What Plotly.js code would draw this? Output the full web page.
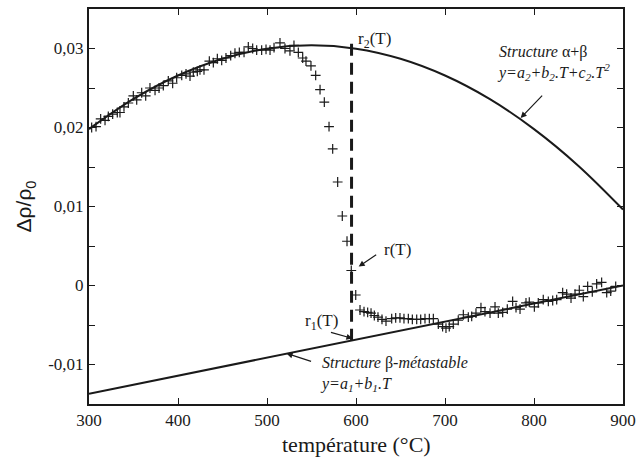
<!DOCTYPE html>
<html>
<head>
<meta charset="utf-8">
<script src="https://cdn.plot.ly/plotly-3.0.1.min.js"></script>
<style>html,body{margin:0;padding:0;background:#fff;}#chart{width:640px;height:461px;}</style>
</head>
<body>
<div id="chart"></div>
<script>
// Measured points (temperature °C, Δρ/ρ0)
const measT = [303,307.9,313.1,318,321.7,326.6,331.8,334.8,339.3,344.2,349.8,353.6,359.2,363.7,368.5,374.2,378.7,383.5,389.1,394,398.5,404.2,409,413.5,417.2,421.7,424.7,429.2,435.2,439.7,444.2,449.1,453.9,459.2,464,468.9,474.2,479,483.9,488.4,494,498.9,503.4,507.9,514.6,520.2,525.8,530.3,535.2,540.1,543.8,549.4,554.7,559.6,564.4,569.7,573.8,579.4,584.6,589.9,594.7,599.7,604.5,609,613.1,616.9,620.6,624.7,629.2,633.7,640.1,644.6,649.4,653.9,658.8,663.3,668.2,672.7,677.5,682.4,686.9,692.5,697.3,701.1,704.8,709.3,714.9,720.6,726.2,730,734.8,740.4,744.9,750.6,756.2,759.9,764.8,770,776,779.8,784.3,791,794.7,800.4,804.8,810.4,816.1,821,825.5,832.2,836.7,841.6,846.1,850.9,855.4,860.3,865.5,870.4,876,881.7,886.2,891.8];
const measY = [0.0200,0.0201,0.0211,0.0209,0.0214,0.0217,0.0219,0.0219,0.0226,0.0231,0.0240,0.0235,0.0244,0.0240,0.0250,0.0247,0.0250,0.0253,0.0259,0.0256,0.0263,0.0266,0.0268,0.0265,0.0270,0.0271,0.0273,0.0273,0.0284,0.0282,0.0287,0.0285,0.0288,0.0291,0.0294,0.0295,0.0295,0.0302,0.0300,0.0298,0.0298,0.0299,0.0298,0.0301,0.0307,0.0300,0.0297,0.0304,0.0295,0.0288,0.0284,0.0278,0.0266,0.0248,0.0232,0.0201,0.0173,0.0131,0.0088,0.0056,0.0019,-0.0012,-0.0031,-0.0033,-0.0034,-0.0035,-0.0038,-0.0040,-0.0043,-0.0045,-0.0042,-0.0041,-0.0041,-0.0042,-0.0042,-0.0043,-0.0043,-0.0043,-0.0042,-0.0042,-0.0042,-0.0049,-0.0052,-0.0054,-0.0052,-0.0049,-0.0044,-0.0037,-0.0040,-0.0039,-0.0035,-0.0028,-0.0033,-0.0035,-0.0027,-0.0035,-0.0034,-0.0030,-0.0020,-0.0028,-0.0030,-0.0022,-0.0021,-0.0027,-0.0022,-0.0018,-0.0020,-0.0019,-0.0018,-0.0009,-0.0011,-0.0016,-0.0011,-0.0006,-0.0014,-0.0001,-0.0008,0.0002,0.0004,-0.0009,-0.0007,-0.0001];

// Fit α+β (quadratic)
const fit2T = [300,350,400,450,500,550,600,650,700,750,800,850,900];
const fit2Y = [0.0198,0.02362,0.02658,0.0287,0.02998,0.0304,0.02998,0.0287,0.02658,0.02362,0.0198,0.01514,0.00962];

// Fit β-métastable (linear)
const fit1T = [300,900];
const fit1Y = [-0.0137,0.0000];

// Vertical marker at transition
const markT = [595,595];
const markY = [-0.0070,0.0313];

const yTickVals = [-0.01,0,0.01,0.02,0.03];
const yTickText = ['-0,01','0','0,01','0,02','0,03'];
const xTickVals = [300,400,500,600,700,800,900];

const ink = '#1a1a1a';
const serif = 'Liberation Serif';

const traces = [
  {x: fit2T, y: fit2Y, mode:'lines', line:{color:ink, width:2, shape:'spline'}, hoverinfo:'skip'},
  {x: fit1T, y: fit1Y, mode:'lines', line:{color:ink, width:2}, hoverinfo:'skip'},
  {x: markT, y: markY, mode:'lines', line:{color:ink, width:3, dash:'12px,7px'}, hoverinfo:'skip'},
  {x: measT, y: measY, mode:'markers', marker:{symbol:'cross-thin-open', size:7, color:ink, line:{color:ink, width:1.2}}}
];

function axisBase() {
  return {
    showgrid:false, zeroline:false, showline:true, mirror:'allticks',
    linecolor:ink, linewidth:2, ticks:'inside', ticklen:6, tickcolor:ink, tickwidth:1,
    tickfont:{family:serif, size:17, color:ink}
  };
}

const ann = [];
// α+β text
ann.push({x:756, y:0.0282, xref:'x', yref:'y', xanchor:'left', yanchor:'middle', showarrow:false, align:'left',
  text:'<i>Structure</i> α+β<br><i>y=a<sub>2</sub>+b<sub>2</sub>.T+c<sub>2</sub>.T<sup>2</sup></i>',
  font:{family:serif, size:16, color:ink}});
ann.push({x:785, y:0.0212, xref:'x', yref:'y', text:' ', showarrow:true, ax:25, ay:-26, arrowhead:2, arrowsize:1, arrowwidth:1.2, arrowcolor:ink, standoff:0});
// β-métastable
ann.push({x:557, y:-0.0112, xref:'x', yref:'y', xanchor:'left', yanchor:'middle', showarrow:false, align:'left',
  text:'<i>Structure</i> β-<i>métastable</i><br><i>y=a<sub>1</sub>+b<sub>1</sub>.T</i>',
  font:{family:serif, size:16, color:ink}});
ann.push({x:522, y:-0.0086, xref:'x', yref:'y', text:' ', showarrow:true, ax:28, ay:9, arrowhead:2, arrowsize:1, arrowwidth:1.2, arrowcolor:ink, standoff:0});
// r(T)
ann.push({x:647, y:0.0046, xref:'x', yref:'y', showarrow:false, text:'r(T)', font:{family:serif, size:17, color:ink}});
ann.push({x:603, y:0.0024, xref:'x', yref:'y', text:' ', showarrow:true, ax:21, ay:-14, arrowhead:2, arrowsize:1, arrowwidth:1.2, arrowcolor:ink, standoff:0});
// r1(T)
ann.push({x:561, y:-0.0046, xref:'x', yref:'y', showarrow:false, text:'r<sub>1</sub>(T)', font:{family:serif, size:17, color:ink}});
ann.push({x:596, y:-0.0067, xref:'x', yref:'y', text:' ', showarrow:true, ax:-25, ay:-7, arrowhead:2, arrowsize:1, arrowwidth:1.2, arrowcolor:ink, standoff:0});
// r2(T)
ann.push({x:621, y:0.0311, xref:'x', yref:'y', showarrow:false, text:'r<sub>2</sub>(T)', font:{family:serif, size:17, color:ink}});
// axis titles
ann.push({x:0.5, y:-0.102, xref:'paper', yref:'paper', xanchor:'center', yanchor:'middle', showarrow:false,
  text:'température (°C)', font:{family:serif, size:22, color:ink}});
ann.push({x:-0.12, y:0.5, xref:'paper', yref:'paper', xanchor:'center', yanchor:'middle', showarrow:false, textangle:-90,
  text:'Δρ/ρ<sub>0</sub>', font:{family:'Liberation Sans', size:21, color:ink}});

const layout = {
  width:640, height:461,
  font:{family:serif, size:17, color:ink},
  margin:{l:89, r:17, t:9, b:57},
  paper_bgcolor:'#fff', plot_bgcolor:'#fff',
  showlegend:false,
  xaxis: Object.assign(axisBase(), {range:[300,900], tickvals:xTickVals}),
  yaxis: Object.assign(axisBase(), {range:[-0.015,0.035], tickvals:yTickVals, ticktext:yTickText,
    minor:{ticks:'inside', ticklen:6, dtick:0.005, tick0:0, tickcolor:ink, tickwidth:1, showgrid:false}}),
  annotations: ann
};

Plotly.newPlot('chart', traces, layout, {staticPlot:true, displayModeBar:false});
</script>
</body>
</html>
